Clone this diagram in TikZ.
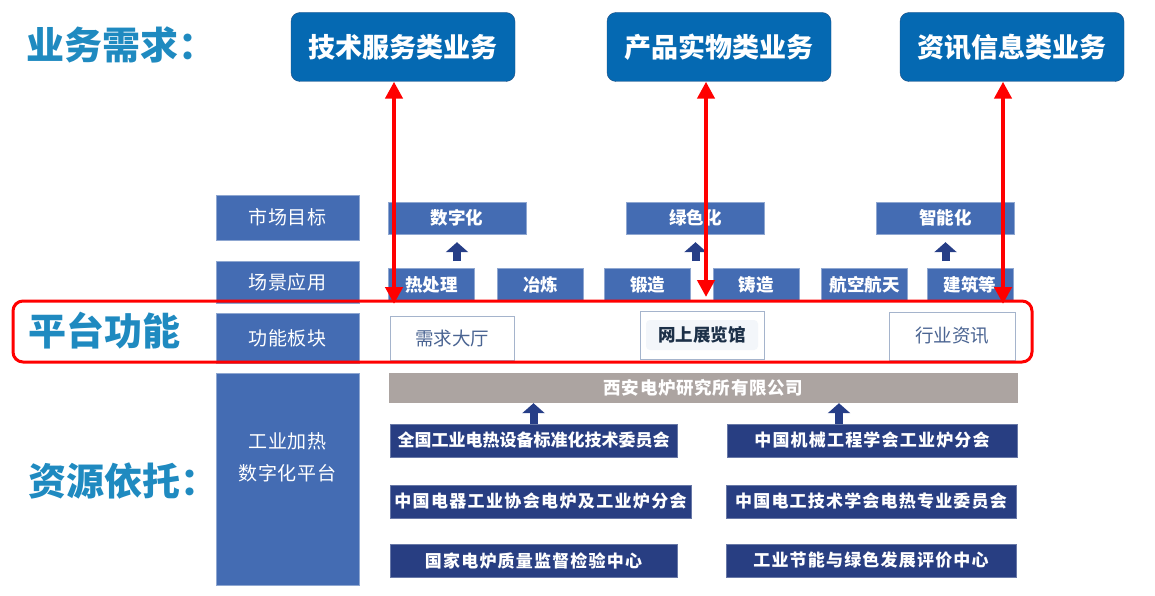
\documentclass[tikz,border=0pt]{standalone}
\usepackage{fontspec}
\setmainfont{Noto Sans CJK SC}
\usetikzlibrary{arrows.meta,calc,positioning}
\definecolor{HeadTeal}{RGB}{31,138,192}
\definecolor{BizBlue}{RGB}{5,105,178}
\definecolor{BizEdge}{RGB}{30,78,130}
\definecolor{RowBlue}{RGB}{68,108,179}
\definecolor{OrgNavy}{RGB}{40,62,130}
\definecolor{ArrowNavy}{RGB}{38,62,135}
\definecolor{InstGray}{RGB}{172,164,161}
\definecolor{FuncEdge}{RGB}{165,180,204}
\definecolor{FuncText}{RGB}{74,100,146}
\definecolor{ExpoBack}{RGB}{243,246,250}
\definecolor{ExpoText}{RGB}{28,48,72}

\begin{document}
\begin{tikzpicture}[x=1pt, y=-1pt, >=Latex]
    \tikzstyle{head}=[anchor=west, inner sep=0pt, text=HeadTeal, font=\fontsize{38}{40}\selectfont\bfseries]
    \tikzstyle{biz}=[draw=BizEdge, fill=BizBlue, rounded corners=9pt, minimum width=224pt, minimum height=69pt, text=white, font=\fontsize{27}{30}\selectfont\bfseries]
    \tikzstyle{lbl}=[draw=RowBlue!60!white, fill=RowBlue, minimum width=143pt, text=white, font=\fontsize{19}{22}\selectfont\addfontfeature{LetterSpace=4}]
    \tikzstyle{aim}=[draw=RowBlue!60!white, fill=RowBlue, minimum width=138pt, minimum height=32pt, text=white, font=\fontsize{17.5}{20}\selectfont\bfseries]
    \tikzstyle{scene}=[draw=RowBlue!60!white, fill=RowBlue, minimum width=86pt, minimum height=33pt, text=white, font=\fontsize{17.5}{20}\selectfont\bfseries]
    \tikzstyle{func}=[draw=FuncEdge, fill=white, text=FuncText, font=\fontsize{18.5}{22}\selectfont]
    \tikzstyle{org}=[draw=OrgNavy!70!white, fill=OrgNavy, minimum height=33pt, text=white, font=\fontsize{17}{20}\selectfont\bfseries\addfontfeature{LetterSpace=7}]
    \tikzstyle{blk}=[draw=ArrowNavy, line width=8pt, -{Triangle[width=22pt,length=10pt]}]
    \tikzstyle{dbl}=[draw=red, line width=4.5pt, {Triangle[width=17pt,length=17pt]}-{Triangle[width=17pt,length=17pt]}]

    \useasboundingbox (0,0) rectangle (1155,596);

    % headings on the left
    \node[head] (needs) at (26,45) {业务需求：};
    \node[head] (platf) at (28,331) {平台功能};
    \node[head] (source) at (28,481) {资源依托：};

    % business types
    \node[biz] (tech) at (403,47) {技术服务类业务};
    \node[biz] (goods) at (719,47) {产品实物类业务};
    \node[biz] (info) at (1012,47) {资讯信息类业务};

    % row labels
    \node[lbl, minimum height=45pt] (market) at (287.5,217.5) {市场目标};
    \node[lbl, minimum height=42pt] (scene) at (287.5,282) {场景应用};
    \node[lbl, minimum height=50pt] (func) at (287.5,338) {功能板块};
    \node[lbl, minimum height=212pt] (plat) at (287.5,479) {};
    \node[text=white, align=center, font=\fontsize{19}{32}\selectfont\addfontfeature{LetterSpace=4}] (platname) at (287.5,457.5) {工业加热\\数字化平台};

    % market targets
    \node[aim] (digit) at (457,218) {数字化};
    \node[aim] (green) at (695.5,218) {绿色化};
    \node[aim] (smart) at (945.5,218) {智能化};

    % application scenes
    \node[scene] (heat) at (431.5,284.5) {热处理};
    \node[scene] (smelt) at (540.5,284.5) {冶炼};
    \node[scene] (forge) at (647.5,284.5) {锻造};
    \node[scene] (cast) at (756,284.5) {铸造};
    \node[scene] (aero) at (864.5,284.5) {航空航天};
    \node[scene] (build) at (970,284.5) {建筑等};

    \draw[blk] ($(digit.south)+(0,27)$) -- ($(digit.south)+(0,8)$);
    \draw[blk] ($(green.south)+(0,27)$) -- ($(green.south)+(0,8)$);
    \draw[blk] ($(smart.south)+(0,27)$) -- ($(smart.south)+(0,8)$);

    % platform functions
    \node[func, minimum width=124pt, minimum height=44pt] (hall) at (452,338) {需求大厅};
    \node[func, minimum width=124pt, minimum height=48pt] (expo) at (702,335) {};
    \node[fill=ExpoBack, rounded corners=4pt, minimum width=112pt, minimum height=30pt, text=ExpoText, font=\fontsize{17.5}{20}\selectfont\bfseries] (expotag) at (expo) {网上展览馆};
    \node[func, minimum width=126pt, minimum height=48pt] (news) at (952,336) {行业资讯};

    % resources
    \node[fill=InstGray, minimum width=629pt, minimum height=30pt, text=white, font=\fontsize{17.5}{20}\selectfont\bfseries\addfontfeature{LetterSpace=4}] (xian) at (703.5,388) {西安电炉研究所有限公司};
    \node[org, minimum width=287pt, font=\fontsize{17}{20}\selectfont\bfseries] (std) at (533.5,440.5) {全国工业电热设备标准化技术委员会};
    \node[org, minimum width=301pt, font=\fontsize{17}{20}\selectfont\bfseries\addfontfeature{LetterSpace=8}] (appl) at (540.5,501.5) {中国电器工业协会电炉及工业炉分会};
    \node[org, minimum width=287pt] (qual) at (533.5,560.5) {国家电炉质量监督检验中心};
    \node[org, minimum width=290pt] (mech) at (872,440.5) {中国机械工程学会工业炉分会};
    \node[org, minimum width=290pt] (elec) at (871,501.5) {中国电工技术学会电热专业委员会};
    \node[org, minimum width=290pt] (save) at (871,560.5) {工业节能与绿色发展评价中心};

    \draw[blk] (std.north) -- (std.north |- xian.south);
    \draw[blk] ([xshift=-33pt]mech.north) -- ([xshift=-33pt]mech.north |- xian.south);

    % red frame and links
    \node[draw=red, line width=3pt, rounded corners=10pt, minimum width=1019pt, minimum height=61pt, inner sep=0pt] (frame) at (522.5,331.5) {};
    \coordinate (d1) at (394,304);
    \coordinate (d2) at (706,297);
    \coordinate (d3) at (1003,304);
    \draw[dbl] (tech.south -| d1) -- (d1);
    \draw[dbl] (goods.south -| d2) -- (d2);
    \draw[dbl] (info.south -| d3) -- (d3);
\end{tikzpicture}
\end{document}
